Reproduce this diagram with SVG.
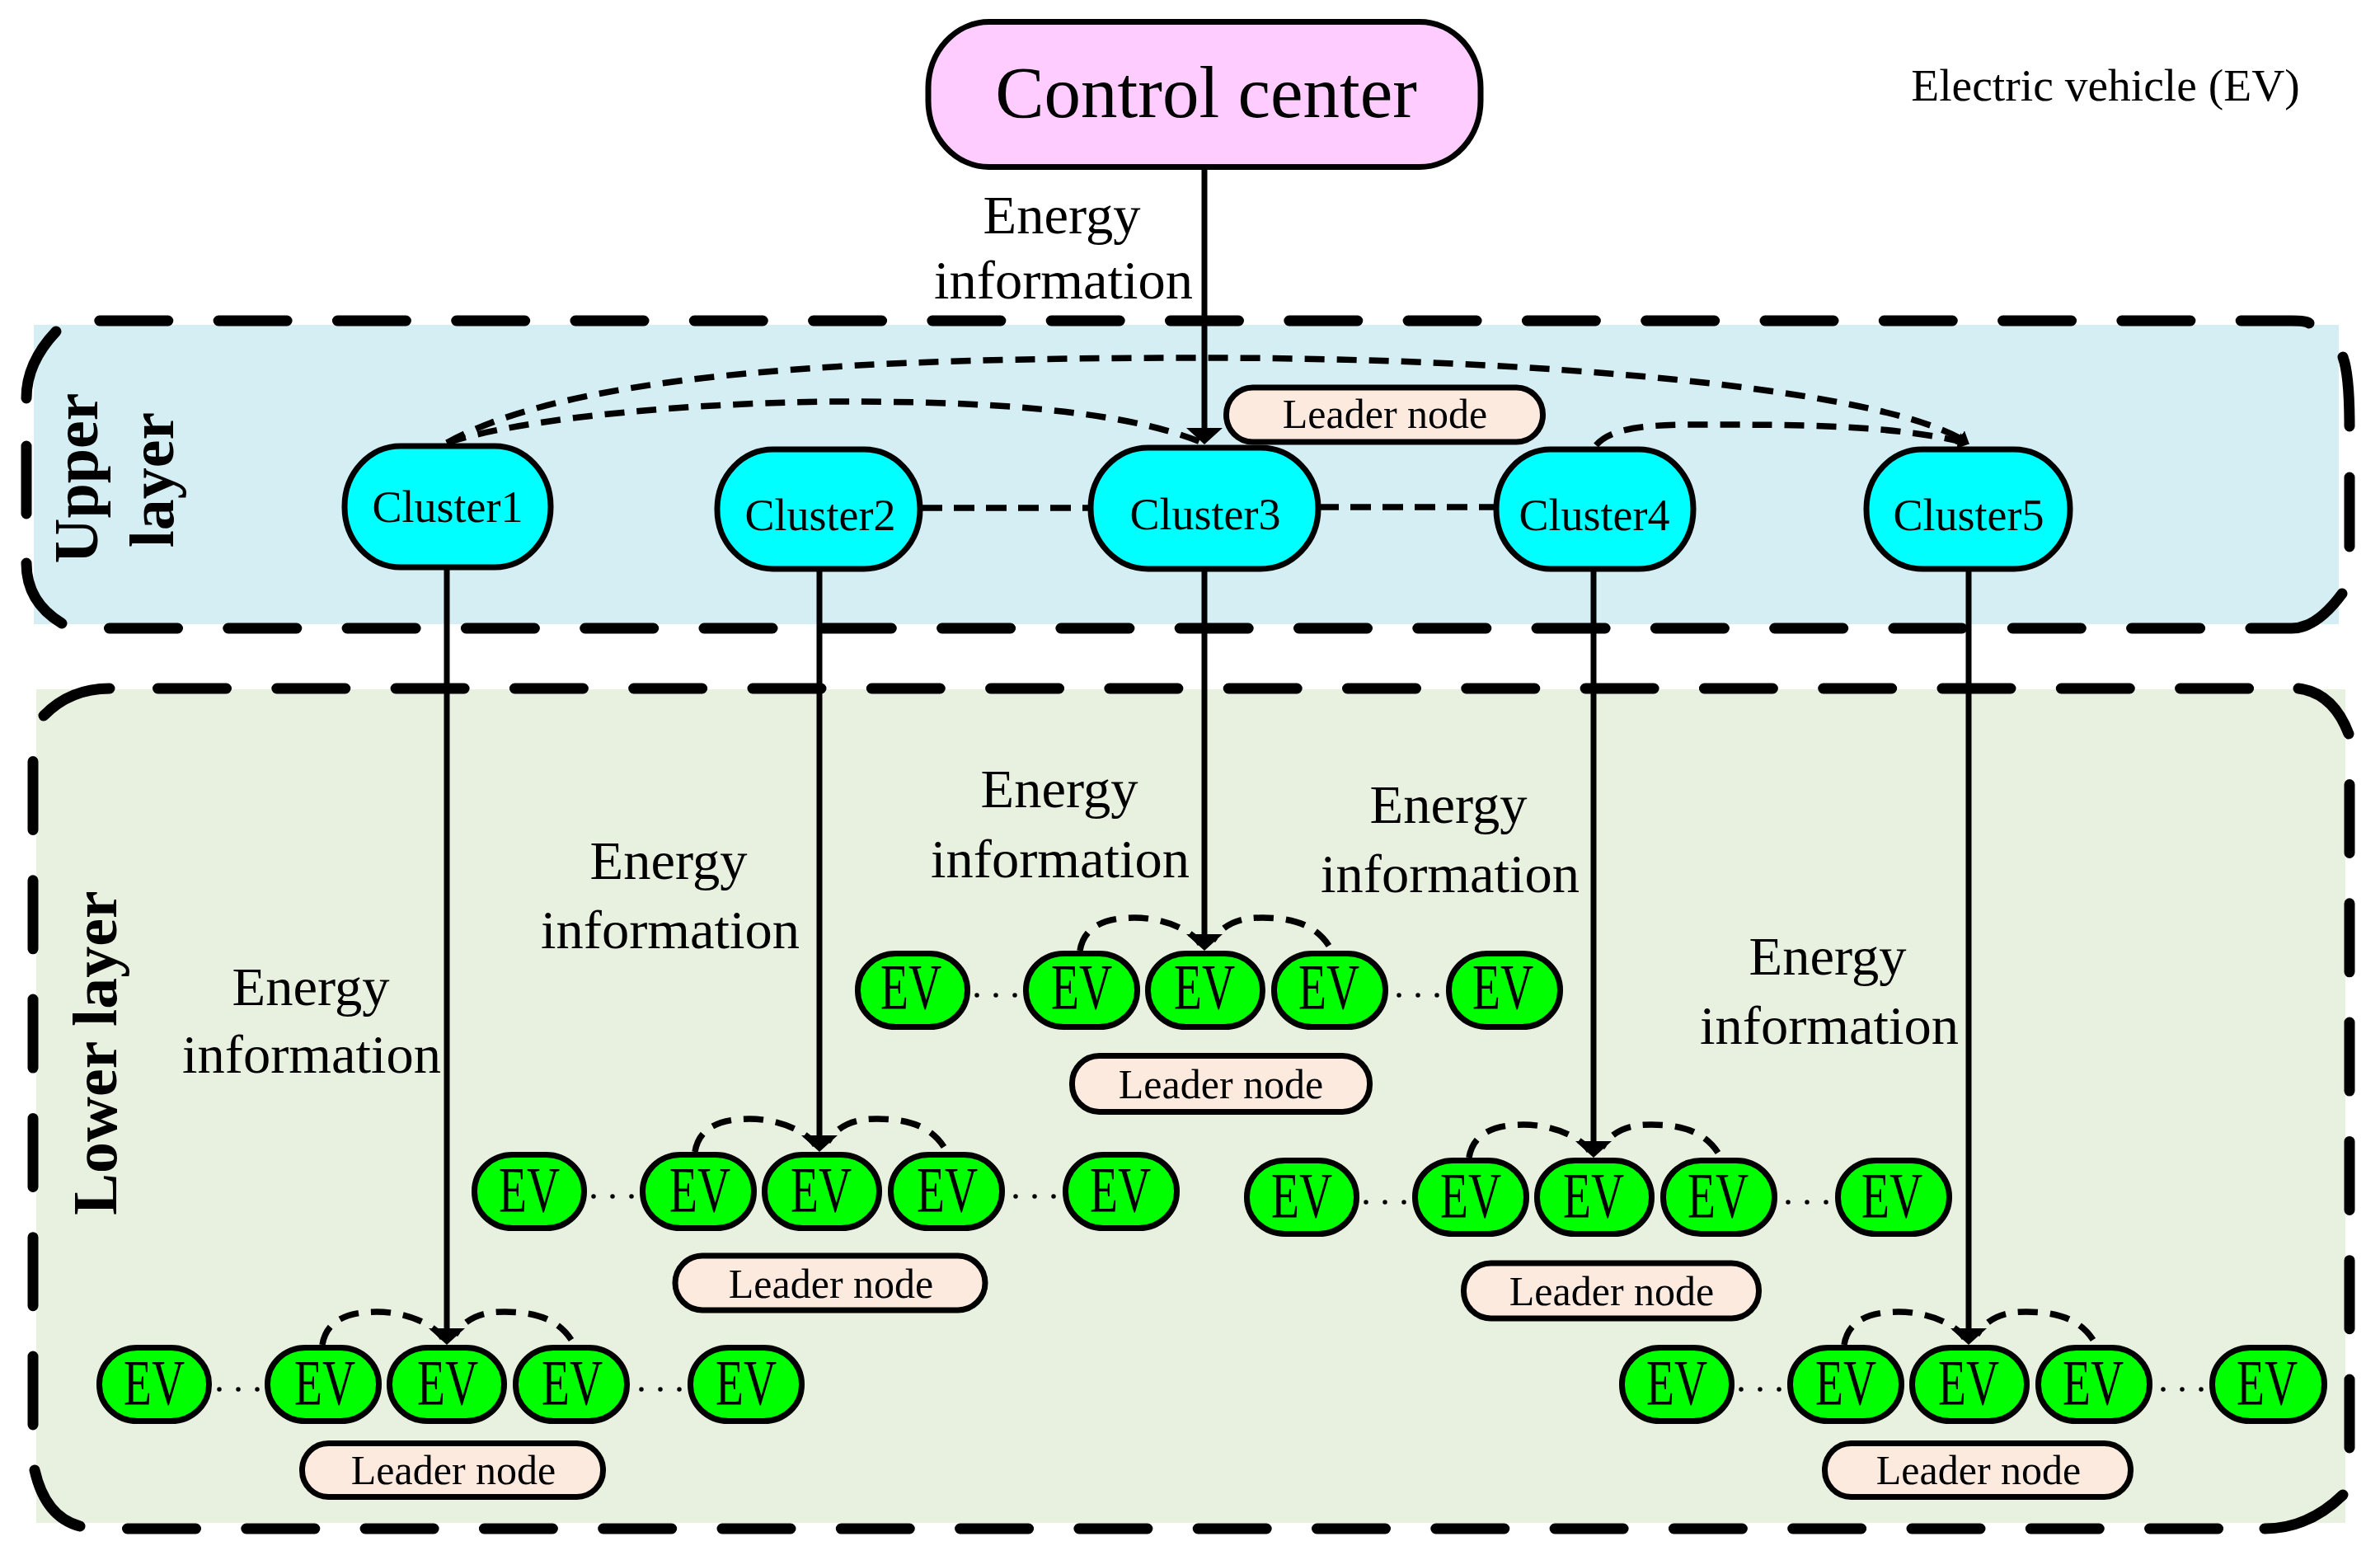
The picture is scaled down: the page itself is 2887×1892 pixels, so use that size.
<svg xmlns="http://www.w3.org/2000/svg" width="2887" height="1892" viewBox="0 0 2887 1892">
<style>
text{font-family:"Liberation Serif","Times New Roman",serif;fill:#000;text-anchor:middle}
.b{fill:none;stroke:#000;stroke-width:13;stroke-linecap:round}
.d{stroke-dasharray:83 61.3}
.l{fill:none;stroke:#000;stroke-width:7}
.a{marker-end:url(#big)}
.da{fill:none;stroke:#000;stroke-width:7.500;stroke-dasharray:25 14}
.arc{fill:none;stroke:#000;stroke-width:7.500;stroke-dasharray:24 15}
.dot{fill:none;stroke:#000;stroke-width:5.500;stroke-linecap:round;stroke-dasharray:0 23}
.cl{fill:#0ff;stroke:#000;stroke-width:7}
.ev{fill:#0f0;stroke:#000;stroke-width:7}
.ld{fill:#fdeadf;stroke:#000;stroke-width:7}
.t66{font-size:66.500px}.t54{font-size:54px}.t50{font-size:50px}
.evt{font-size:79px}
.lay{font-size:76px;font-weight:bold}
</style>
<defs>
<marker id="big" markerUnits="userSpaceOnUse" markerWidth="20" markerHeight="44" refX="15" refY="22" orient="auto" viewBox="0 0 20 44"><path d="M0,0L20,22L0,44Z" fill="#000"/></marker>
<marker id="small" markerUnits="userSpaceOnUse" markerWidth="14" markerHeight="20" refX="13" refY="10" orient="auto" viewBox="0 0 14 20"><path d="M0,0L14,10L0,20Z" fill="#000"/></marker>
</defs>
<rect width="2887" height="1892" fill="#fff"/>

<g id="upper-layer">
<rect x="41" y="394" width="2796" height="363" fill="#d4eef3"/>
<path class="b d" d="M120.800,389H2780Q2800,389 2802,393"/>
<path class="b" d="M68,402Q32,440 32,483M32,541V623M32,683Q32,730 75,756M2842,433Q2850,455 2850,517M2850,579V663M2841,720Q2810,762 2780,762H2730"/>
<path class="b d" d="M132.500,762H2680"/>
</g>
<g id="lower-layer">
<rect x="44" y="836" width="2801" height="1011" fill="#e8f1df"/>
<path class="b" d="M53,868Q85,835 133,835M2788,835Q2830,840 2849,890M42,1783Q55,1840 97,1851M2842,1813Q2800,1854 2747,1854"/>
<path class="b d" d="M191.500,835H2735"/>
<path class="b d" d="M40,923.500V1735"/>
<path class="b d" d="M2850,951.500V1761"/>
<path class="b d" d="M154.500,1854H2700"/>
</g>
<text class="lay" transform="translate(118 580) rotate(-90)">Upper</text>
<text class="lay" transform="translate(210 582) rotate(-90)">layer</text>
<text class="lay" transform="translate(141 1277) rotate(-90)">Lower layer</text>

<g id="connectors">
<path class="l a" d="M1461,206V534"/>
<path class="l a" d="M542,691V1626"/>
<path class="l a" d="M994,693V1392"/>
<path class="l a" d="M1461,693V1148"/>
<path class="l a" d="M1933,693V1399"/>
<path class="l a" d="M2388,693V1626"/>
<path class="arc" d="M542,537C700,450 1050,434 1461,434C1850,434 2290,470 2388,538" marker-end="url(#small)"/>
<path class="arc" d="M542,537C640,505 860,487 1030,487C1180,487 1360,495 1461,538"/>
<path class="arc" d="M1936,540C1955,518 2000,515 2060,515C2180,515 2300,515 2388,538" marker-end="url(#small)"/>
<path class="da" d="M1118,616H1322"/>
<path class="da" d="M1599,615H1813"/>
<g transform="translate(542 1631)"><path class="arc" d="M-151,0C-146,-30 -120,-40 -85,-40C-50,-40 -15,-25 -5,-8"/><path class="arc" d="M151,-6C135,-30 110,-40 70,-40C45,-40 25,-35 10,-12"/><path class="dot" d="M-276,54H-226"/><path class="dot" d="M236,54H288"/></g>
<g transform="translate(994 1397)"><path class="arc" d="M-151,0C-146,-30 -120,-40 -85,-40C-50,-40 -15,-25 -5,-8"/><path class="arc" d="M151,-6C135,-30 110,-40 70,-40C45,-40 25,-35 10,-12"/><path class="dot" d="M-274,54H-224"/><path class="dot" d="M238,54H290"/></g>
<g transform="translate(1461 1153)"><path class="arc" d="M-151,0C-146,-30 -120,-40 -85,-40C-50,-40 -15,-25 -5,-8"/><path class="arc" d="M151,-6C135,-30 110,-40 70,-40C45,-40 25,-35 10,-12"/><path class="dot" d="M-276,54H-226"/><path class="dot" d="M236,54H288"/></g>
<g transform="translate(1933 1404)"><path class="arc" d="M-151,0C-146,-30 -120,-40 -85,-40C-50,-40 -15,-25 -5,-8"/><path class="arc" d="M151,-6C135,-30 110,-40 70,-40C45,-40 25,-35 10,-12"/><path class="dot" d="M-276,54H-226"/><path class="dot" d="M236,54H288"/></g>
<g transform="translate(2388 1631)"><path class="arc" d="M-151,0C-146,-30 -120,-40 -85,-40C-50,-40 -15,-25 -5,-8"/><path class="arc" d="M151,-6C135,-30 110,-40 70,-40C45,-40 25,-35 10,-12"/><path class="dot" d="M-276,54H-226"/><path class="dot" d="M236,54H288"/></g>
</g>

<g id="control-center"><rect x="1126" y="26.500" width="670" height="176" rx="74" ry="80" fill="#fcf" stroke="#000" stroke-width="7"/><text x="1463" y="142" font-size="89">Control center</text></g>
<text x="2554" y="122" font-size="55.500">Electric vehicle (EV)</text>

<g id="cluster1"><rect class="cl" x="418" y="541" width="250" height="147" rx="68" ry="73"/><text class="t54" x="543" y="633">Cluster1</text></g>
<g id="cluster2"><rect class="cl" x="870" y="545" width="246" height="145" rx="68" ry="72"/><text class="t54" x="995" y="643">Cluster2</text></g>
<g id="cluster3"><rect class="cl" x="1323" y="543" width="276" height="147" rx="70" ry="73"/><text class="t54" x="1462" y="642">Cluster3</text></g>
<g id="cluster4"><rect class="cl" x="1815" y="545" width="239" height="145" rx="66" ry="72"/><text class="t54" x="1934" y="643">Cluster4</text></g>
<g id="cluster5"><rect class="cl" x="2264" y="545" width="247" height="145" rx="68" ry="72"/><text class="t54" x="2388" y="643">Cluster5</text></g>

<g id="leader-top"><rect class="ld" x="1487.500" y="470" width="384" height="66" rx="32" ry="33"/><text class="t50" x="1680" y="519">Leader node</text></g>
<g id="leader-1"><rect class="ld" x="366.500" y="1750.500" width="365" height="65" rx="32" ry="32"/><text class="t50" x="550" y="1800">Leader node</text></g>
<g id="leader-2"><rect class="ld" x="819" y="1523" width="376" height="66" rx="33" ry="33"/><text class="t50" x="1008" y="1574">Leader node</text></g>
<g id="leader-3"><rect class="ld" x="1300.500" y="1280.500" width="361" height="68" rx="33" ry="33"/><text class="t50" x="1481" y="1332">Leader node</text></g>
<g id="leader-4"><rect class="ld" x="1775.500" y="1532" width="358" height="67" rx="33" ry="33"/><text class="t50" x="1955" y="1583">Leader node</text></g>
<g id="leader-5"><rect class="ld" x="2213.500" y="1750.500" width="371" height="65" rx="32" ry="32"/><text class="t50" x="2400" y="1800">Leader node</text></g>

<g id="ev-row-1" transform="translate(541 1631)">
<g id="ev1a"><rect class="ev" x="-420.500" y="3.500" width="133" height="89" rx="46" ry="44"/><text class="evt" x="-354" y="72" textLength="74" lengthAdjust="spacingAndGlyphs">EV</text></g>
<g id="ev1b"><rect class="ev" x="-216.500" y="3.500" width="135" height="89" rx="46" ry="44"/><text class="evt" x="-147" y="72" textLength="74" lengthAdjust="spacingAndGlyphs">EV</text></g>
<g id="ev1c"><rect class="ev" x="-68.500" y="3.500" width="139" height="89" rx="46" ry="44"/><text class="evt" x="2" y="72" textLength="74" lengthAdjust="spacingAndGlyphs">EV</text></g>
<g id="ev1d"><rect class="ev" x="84.500" y="3.500" width="135" height="89" rx="46" ry="44"/><text class="evt" x="153" y="72" textLength="74" lengthAdjust="spacingAndGlyphs">EV</text></g>
<g id="ev1e"><rect class="ev" x="296.500" y="3.500" width="135" height="89" rx="46" ry="44"/><text class="evt" x="364" y="72" textLength="74" lengthAdjust="spacingAndGlyphs">EV</text></g>
</g>
<g id="ev-row-2" transform="translate(996 1397)">
<g id="ev2a"><rect class="ev" x="-420.500" y="3.500" width="133" height="89" rx="46" ry="44"/><text class="evt" x="-354" y="72" textLength="74" lengthAdjust="spacingAndGlyphs">EV</text></g>
<g id="ev2b"><rect class="ev" x="-216.500" y="3.500" width="135" height="89" rx="46" ry="44"/><text class="evt" x="-147" y="72" textLength="74" lengthAdjust="spacingAndGlyphs">EV</text></g>
<g id="ev2c"><rect class="ev" x="-68.500" y="3.500" width="139" height="89" rx="46" ry="44"/><text class="evt" x="0" y="72" textLength="74" lengthAdjust="spacingAndGlyphs">EV</text></g>
<g id="ev2d"><rect class="ev" x="84.500" y="3.500" width="135" height="89" rx="46" ry="44"/><text class="evt" x="153" y="72" textLength="74" lengthAdjust="spacingAndGlyphs">EV</text></g>
<g id="ev2e"><rect class="ev" x="296.500" y="3.500" width="135" height="89" rx="46" ry="44"/><text class="evt" x="363" y="72" textLength="74" lengthAdjust="spacingAndGlyphs">EV</text></g>
</g>
<g id="ev-row-3" transform="translate(1461 1153)">
<g id="ev3a"><rect class="ev" x="-420.500" y="3.500" width="133" height="89" rx="46" ry="44"/><text class="evt" x="-356" y="70" textLength="74" lengthAdjust="spacingAndGlyphs">EV</text></g>
<g id="ev3b"><rect class="ev" x="-216.500" y="3.500" width="135" height="89" rx="46" ry="44"/><text class="evt" x="-149" y="70" textLength="74" lengthAdjust="spacingAndGlyphs">EV</text></g>
<g id="ev3c"><rect class="ev" x="-68.500" y="3.500" width="139" height="89" rx="46" ry="44"/><text class="evt" x="0" y="70" textLength="74" lengthAdjust="spacingAndGlyphs">EV</text></g>
<g id="ev3d"><rect class="ev" x="84.500" y="3.500" width="135" height="89" rx="46" ry="44"/><text class="evt" x="151" y="70" textLength="74" lengthAdjust="spacingAndGlyphs">EV</text></g>
<g id="ev3e"><rect class="ev" x="296.500" y="3.500" width="135" height="89" rx="46" ry="44"/><text class="evt" x="362" y="70" textLength="74" lengthAdjust="spacingAndGlyphs">EV</text></g>
</g>
<g id="ev-row-4" transform="translate(1933 1404)">
<g id="ev4a"><rect class="ev" x="-420.500" y="3.500" width="133" height="89" rx="46" ry="44"/><text class="evt" x="-354" y="72" textLength="74" lengthAdjust="spacingAndGlyphs">EV</text></g>
<g id="ev4b"><rect class="ev" x="-216.500" y="3.500" width="135" height="89" rx="46" ry="44"/><text class="evt" x="-149" y="72" textLength="74" lengthAdjust="spacingAndGlyphs">EV</text></g>
<g id="ev4c"><rect class="ev" x="-68.500" y="3.500" width="139" height="89" rx="46" ry="44"/><text class="evt" x="0" y="72" textLength="74" lengthAdjust="spacingAndGlyphs">EV</text></g>
<g id="ev4d"><rect class="ev" x="84.500" y="3.500" width="135" height="89" rx="46" ry="44"/><text class="evt" x="151" y="72" textLength="74" lengthAdjust="spacingAndGlyphs">EV</text></g>
<g id="ev4e"><rect class="ev" x="296.500" y="3.500" width="135" height="89" rx="46" ry="44"/><text class="evt" x="362" y="72" textLength="74" lengthAdjust="spacingAndGlyphs">EV</text></g>
</g>
<g id="ev-row-5" transform="translate(2388 1631)">
<g id="ev5a"><rect class="ev" x="-420.500" y="3.500" width="133" height="89" rx="46" ry="44"/><text class="evt" x="-354" y="72" textLength="74" lengthAdjust="spacingAndGlyphs">EV</text></g>
<g id="ev5b"><rect class="ev" x="-216.500" y="3.500" width="135" height="89" rx="46" ry="44"/><text class="evt" x="-149" y="72" textLength="74" lengthAdjust="spacingAndGlyphs">EV</text></g>
<g id="ev5c"><rect class="ev" x="-68.500" y="3.500" width="139" height="89" rx="46" ry="44"/><text class="evt" x="0" y="72" textLength="74" lengthAdjust="spacingAndGlyphs">EV</text></g>
<g id="ev5d"><rect class="ev" x="84.500" y="3.500" width="135" height="89" rx="46" ry="44"/><text class="evt" x="151" y="72" textLength="74" lengthAdjust="spacingAndGlyphs">EV</text></g>
<g id="ev5e"><rect class="ev" x="295.500" y="3.500" width="136" height="89" rx="46" ry="44"/><text class="evt" x="362" y="72" textLength="74" lengthAdjust="spacingAndGlyphs">EV</text></g>
</g>

<g id="labels">
<text class="t66" x="1288" y="283">Energy</text><text class="t66" x="1290" y="362">information</text>
<text class="t66" x="1285" y="979">Energy</text><text class="t66" x="1286" y="1064">information</text>
<text class="t66" x="1757" y="998">Energy</text><text class="t66" x="1759" y="1082">information</text>
<text class="t66" x="811" y="1066">Energy</text><text class="t66" x="813" y="1150">information</text>
<text class="t66" x="377" y="1219">Energy</text><text class="t66" x="378" y="1301">information</text>
<text class="t66" x="2217" y="1182">Energy</text><text class="t66" x="2219" y="1266">information</text>
</g>
</svg>
